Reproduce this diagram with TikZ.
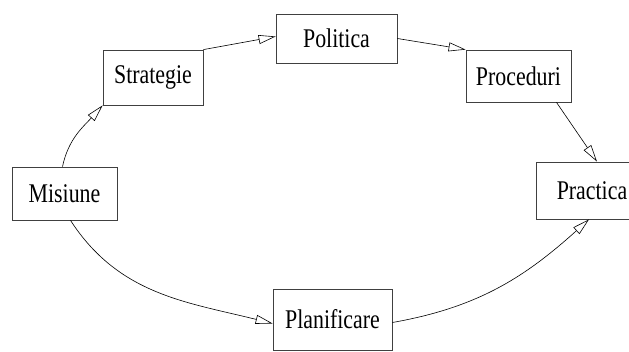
\documentclass[tikz,border=0pt]{standalone}
\usepackage{fontspec}
\newfontfamily\diagfont[FakeStretch=0.81]{Liberation Serif}
\usetikzlibrary{arrows.meta}

\begin{document}
\begin{tikzpicture}[
					x=1pt,y=1pt,
					>={Triangle[open,length=17pt,width=9pt]},
					blk/.style={
						draw=black!75,
						line width=0.8pt,
						inner sep=0pt,
						font=\diagfont\fontsize{27}{27}\selectfont
					},
					link/.style={->,line width=0.6pt}
					]
					\useasboundingbox (0,0) rectangle (629,-352);
					\node[blk,minimum width=105pt,minimum height=53pt] (misiune) at (64.5,-193.5) {Misiune};
					\node[blk,minimum width=100pt,minimum height=55pt] (strategie) at (153,-77.5) {Strategie};
					\node[blk,minimum width=121pt,minimum height=49pt] (politica) at (336.5,-38.5) {Politica};
					\node[blk,minimum width=105pt,minimum height=52pt] (proceduri) at (518.5,-76) {Proceduri};
					\node[blk,minimum width=112pt,minimum height=57pt] (practica) at (592,-190.5) {Practica};
					\node[blk,minimum width=119pt,minimum height=61pt] (planificare) at (332.5,-319.5) {Planificare};
					
					\draw[link] ([xshift=-2pt]misiune.north) to[out=78,in=228] (strategie.south west);
					\draw[link] (strategie.north east) -- ([yshift=2pt]politica.west);
					\draw[link] (politica.east) -- (proceduri.north west);
					\draw[link] ([xshift=38pt]proceduri.south) -- ([xshift=5pt]practica.north);
					\draw[link] ([xshift=6pt]misiune.south) to[out=-57,in=166] ([yshift=-4pt]planificare.west);
					\draw[link] ([yshift=-3pt]planificare.east) to[out=10,in=222] ([xshift=-3pt]practica.south);
					
				\end{tikzpicture}
\end{document}
